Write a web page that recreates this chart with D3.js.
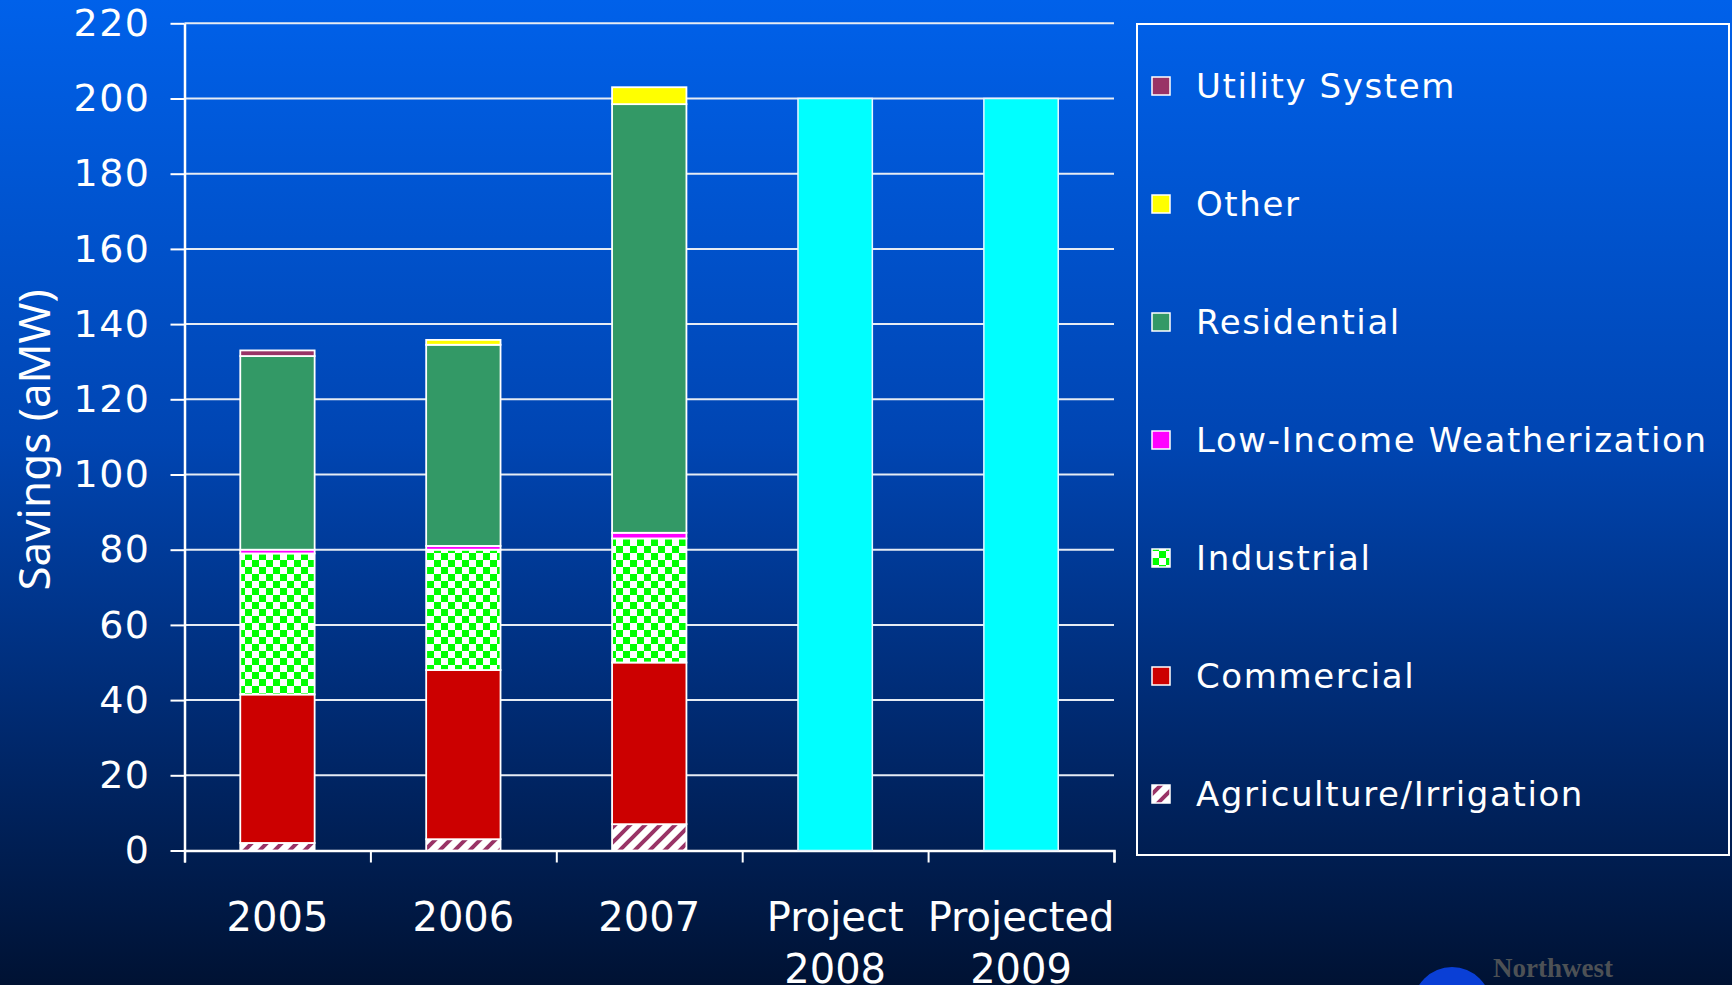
<!DOCTYPE html>
<html>
<head>
<meta charset="utf-8">
<script src="https://cdn.jsdelivr.net/npm/d3@7"></script>
<style>
  html, body { margin: 0; padding: 0; background: #001233; }
  svg { display: block; }
</style>
</head>
<body>
<script>
// categories and series (aMW)
var categories = ["2005", "2006", "2007", "Project 2008", "Projected 2009"];
var categoryLines = [["2005"], ["2006"], ["2007"], ["Project", "2008"], ["Projected", "2009"]];

var agriculture = [2, 3, 7, 0, 0];
var commercial  = [39.5, 45, 43, 0, 0];
var industrial  = [37.5, 32, 33, 0, 0];
var lowIncome   = [1, 1, 1.5, 0, 0];
var residential = [51.5, 53.5, 114, 0, 0];
var other       = [0, 1.3, 4.5, 0, 0];
var utility     = [1.5, 0, 0, 0, 0];
var projected   = [0, 0, 0, 200, 200];

var seriesNames = ["Agriculture/Irrigation", "Commercial", "Industrial",
    "Low-Income Weatherization", "Residential", "Other", "Utility System"];
var yTicks = [0, 20, 40, 60, 80, 100, 120, 140, 160, 180, 200, 220];

var width = 1732, height = 985;

var svg = d3.select("body").append("svg")
    .attr("width", width)
    .attr("height", height);

var defs = svg.append("defs");

var bg = defs.append("linearGradient")
    .attr("id", "bg").attr("x1", 0).attr("y1", 0).attr("x2", 0).attr("y2", 1);
bg.append("stop").attr("offset", "0%").attr("stop-color", "#0061ea");
bg.append("stop").attr("offset", "45%").attr("stop-color", "#0045b2");
bg.append("stop").attr("offset", "75%").attr("stop-color", "#00286c");
bg.append("stop").attr("offset", "100%").attr("stop-color", "#001233");

// checker pattern for industrial
var checker = defs.append("pattern")
    .attr("id", "checker").attr("patternUnits", "userSpaceOnUse")
    .attr("width", 14).attr("height", 14);
checker.append("rect").attr("width", 14).attr("height", 14).attr("fill", "#ffffff");
checker.append("rect").attr("width", 7).attr("height", 7).attr("fill", "#00ff00");
checker.append("rect").attr("x", 7).attr("y", 7).attr("width", 7).attr("height", 7).attr("fill", "#00ff00");

// hatch pattern for agriculture
var hatch = defs.append("pattern")
    .attr("id", "hatch").attr("patternUnits", "userSpaceOnUse")
    .attr("width", 15).attr("height", 15);
hatch.append("rect").attr("width", 15).attr("height", 15).attr("fill", "#ffffff");
hatch.append("path")
    .attr("d", "M-3.75,3.75 L3.75,-3.75 M0,15 L15,0 M11.25,18.75 L18.75,11.25")
    .attr("stroke", "#993366").attr("stroke-width", 4);

var fills = {
    "Agriculture/Irrigation": "url(#hatch)",
    "Commercial": "#cc0000",
    "Industrial": "url(#checker)",
    "Low-Income Weatherization": "#ff00ff",
    "Residential": "#339966",
    "Other": "#ffff00",
    "Utility System": "#993366"
};

svg.append("rect").attr("width", width).attr("height", height).attr("fill", "url(#bg)");

var plotLeft = 184.5, plotRight = 1114, plotTop = 23.3, plotBottom = 850.5;

var x = d3.scaleBand().domain(categories).range([plotLeft, plotRight]).padding(0);
var xEdge = d3.scaleLinear().domain([0, categories.length]).range([plotLeft, plotRight]);
var y = d3.scaleLinear().domain([0, 220]).range([plotBottom, plotTop]);

// table for stacking
var table = categories.map(function (c, i) {
    return {
        cat: c,
        "Agriculture/Irrigation": agriculture[i],
        "Commercial": commercial[i],
        "Industrial": industrial[i],
        "Low-Income Weatherization": lowIncome[i],
        "Residential": residential[i],
        "Other": other[i],
        "Utility System": utility[i],
        "Projected": projected[i]
    };
});

// grid lines
svg.append("g")
    .selectAll("line")
    .data(yTicks.filter(function (d) { return d > 0; }))
    .join("line")
    .attr("x1", plotLeft).attr("x2", plotRight)
    .attr("y1", function (d) { return y(d); })
    .attr("y2", function (d) { return y(d); })
    .attr("stroke", "#e6ecf4").attr("stroke-width", 2);

// y axis
var yAxis = svg.append("g")
    .attr("transform", "translate(" + plotLeft + ",0)")
    .call(d3.axisLeft(y).tickValues(yTicks).tickSize(14).tickPadding(20).tickSizeOuter(0));
yAxis.select(".domain").attr("stroke", "#ffffff").attr("stroke-width", 2.5);
yAxis.selectAll(".tick line").attr("stroke", "#ffffff").attr("stroke-width", 2);
yAxis.selectAll(".tick text")
    .attr("fill", "#ffffff")
    .style("font-family", "'DejaVu Sans', Verdana, sans-serif")
    .style("font-size", "38px")
    .style("letter-spacing", "1.5px");

// x axis: ticks on the category edges
var xEdgeAxis = svg.append("g")
    .attr("transform", "translate(0," + plotBottom + ")")
    .call(d3.axisBottom(xEdge).tickValues(d3.range(0, categories.length + 1)).tickSize(12).tickFormat(""));
xEdgeAxis.select(".domain").attr("stroke", "#ffffff").attr("stroke-width", 2.5);
xEdgeAxis.selectAll(".tick line").attr("stroke", "#ffffff").attr("stroke-width", 2);

// category labels
var xAxis = svg.append("g")
    .attr("transform", "translate(0," + plotBottom + ")")
    .call(d3.axisBottom(x).tickSize(0).tickFormat(""));
xAxis.select(".domain").remove();
xAxis.selectAll(".tick").each(function (d, i) {
    var t = d3.select(this).append("text")
        .attr("fill", "#ffffff")
        .attr("text-anchor", "middle")
        .style("font-family", "'DejaVu Sans', Verdana, sans-serif")
        .style("font-size", "40px");
    categoryLines[i].forEach(function (line, j) {
        t.append("tspan").attr("x", 0).attr("y", 80 + j * 52).text(line);
    });
});

// bars
var barW = x.bandwidth() * 0.4;
var stacked = d3.stack().keys(seriesNames)(table);

svg.append("g")
    .selectAll("g")
    .data(stacked)
    .join("g")
    .attr("fill", function (s) { return fills[s.key]; })
    .selectAll("rect")
    .data(function (s) { return s.filter(function (d) { return d[1] - d[0] > 0; }); })
    .join("rect")
    .attr("x", function (d) { return x(d.data.cat) + (x.bandwidth() - barW) / 2; })
    .attr("width", barW)
    .attr("y", function (d) { return y(d[1]); })
    .attr("height", function (d) { return y(d[0]) - y(d[1]); })
    .attr("stroke", "#ffffff").attr("stroke-width", 1.8);

svg.append("g")
    .selectAll("rect")
    .data(table.filter(function (d) { return d.Projected > 0; }))
    .join("rect")
    .attr("x", function (d) { return x(d.cat) + (x.bandwidth() - barW) / 2; })
    .attr("width", barW)
    .attr("y", function (d) { return y(d.Projected); })
    .attr("height", function (d) { return y(0) - y(d.Projected); })
    .attr("fill", "#00ffff")
    .attr("stroke", "#e8f4ff").attr("stroke-width", 1.5);

// y title
svg.append("text")
    .attr("transform", "translate(50,440) rotate(-90)")
    .attr("text-anchor", "middle")
    .attr("fill", "#ffffff")
    .style("font-family", "'Noto Sans', sans-serif")
    .style("font-size", "44px")
    .text("Savings (aMW)");

// legend
var legend = svg.append("g");
legend.append("rect")
    .attr("x", 1137).attr("y", 24).attr("width", 592).attr("height", 831)
    .attr("fill", "none").attr("stroke", "#ffffff").attr("stroke-width", 2);

var legendOrder = seriesNames.slice().reverse();
var ly = d3.scalePoint().domain(legendOrder).range([86, 794]);

var items = legend.selectAll("g.item")
    .data(legendOrder)
    .join("g")
    .attr("class", "item")
    .attr("transform", function (d) { return "translate(1152," + ly(d) + ")"; });
items.append("rect")
    .attr("x", 0).attr("y", -9).attr("width", 18).attr("height", 18)
    .attr("fill", function (d) { return fills[d]; })
    .attr("stroke", "#ffffff").attr("stroke-width", 1.5);
items.append("text")
    .attr("x", 44).attr("y", 12)
    .attr("fill", "#ffffff")
    .style("font-family", "'DejaVu Sans', Verdana, sans-serif")
    .style("font-size", "34px")
    .style("letter-spacing", "1.6px")
    .text(function (d) { return d; });

// logo in the corner, mostly cut off
var logo = svg.append("g");
logo.append("ellipse")
    .attr("cx", 1452).attr("cy", 1006).attr("rx", 39).attr("ry", 39)
    .attr("fill", "#0a3fd6");
logo.append("text")
    .attr("x", 1493).attr("y", 977)
    .attr("fill", "#4d5155")
    .style("font-family", "'Liberation Serif', serif")
    .style("font-weight", "bold")
    .style("font-size", "27px")
    .text("Northwest");
logo.append("text")
    .attr("x", 1493).attr("y", 1004)
    .attr("fill", "#4d5155")
    .style("font-family", "'Liberation Serif', serif")
    .style("font-weight", "bold")
    .style("font-size", "27px")
    .text("Power and Conservation");
</script>
</body>
</html>
